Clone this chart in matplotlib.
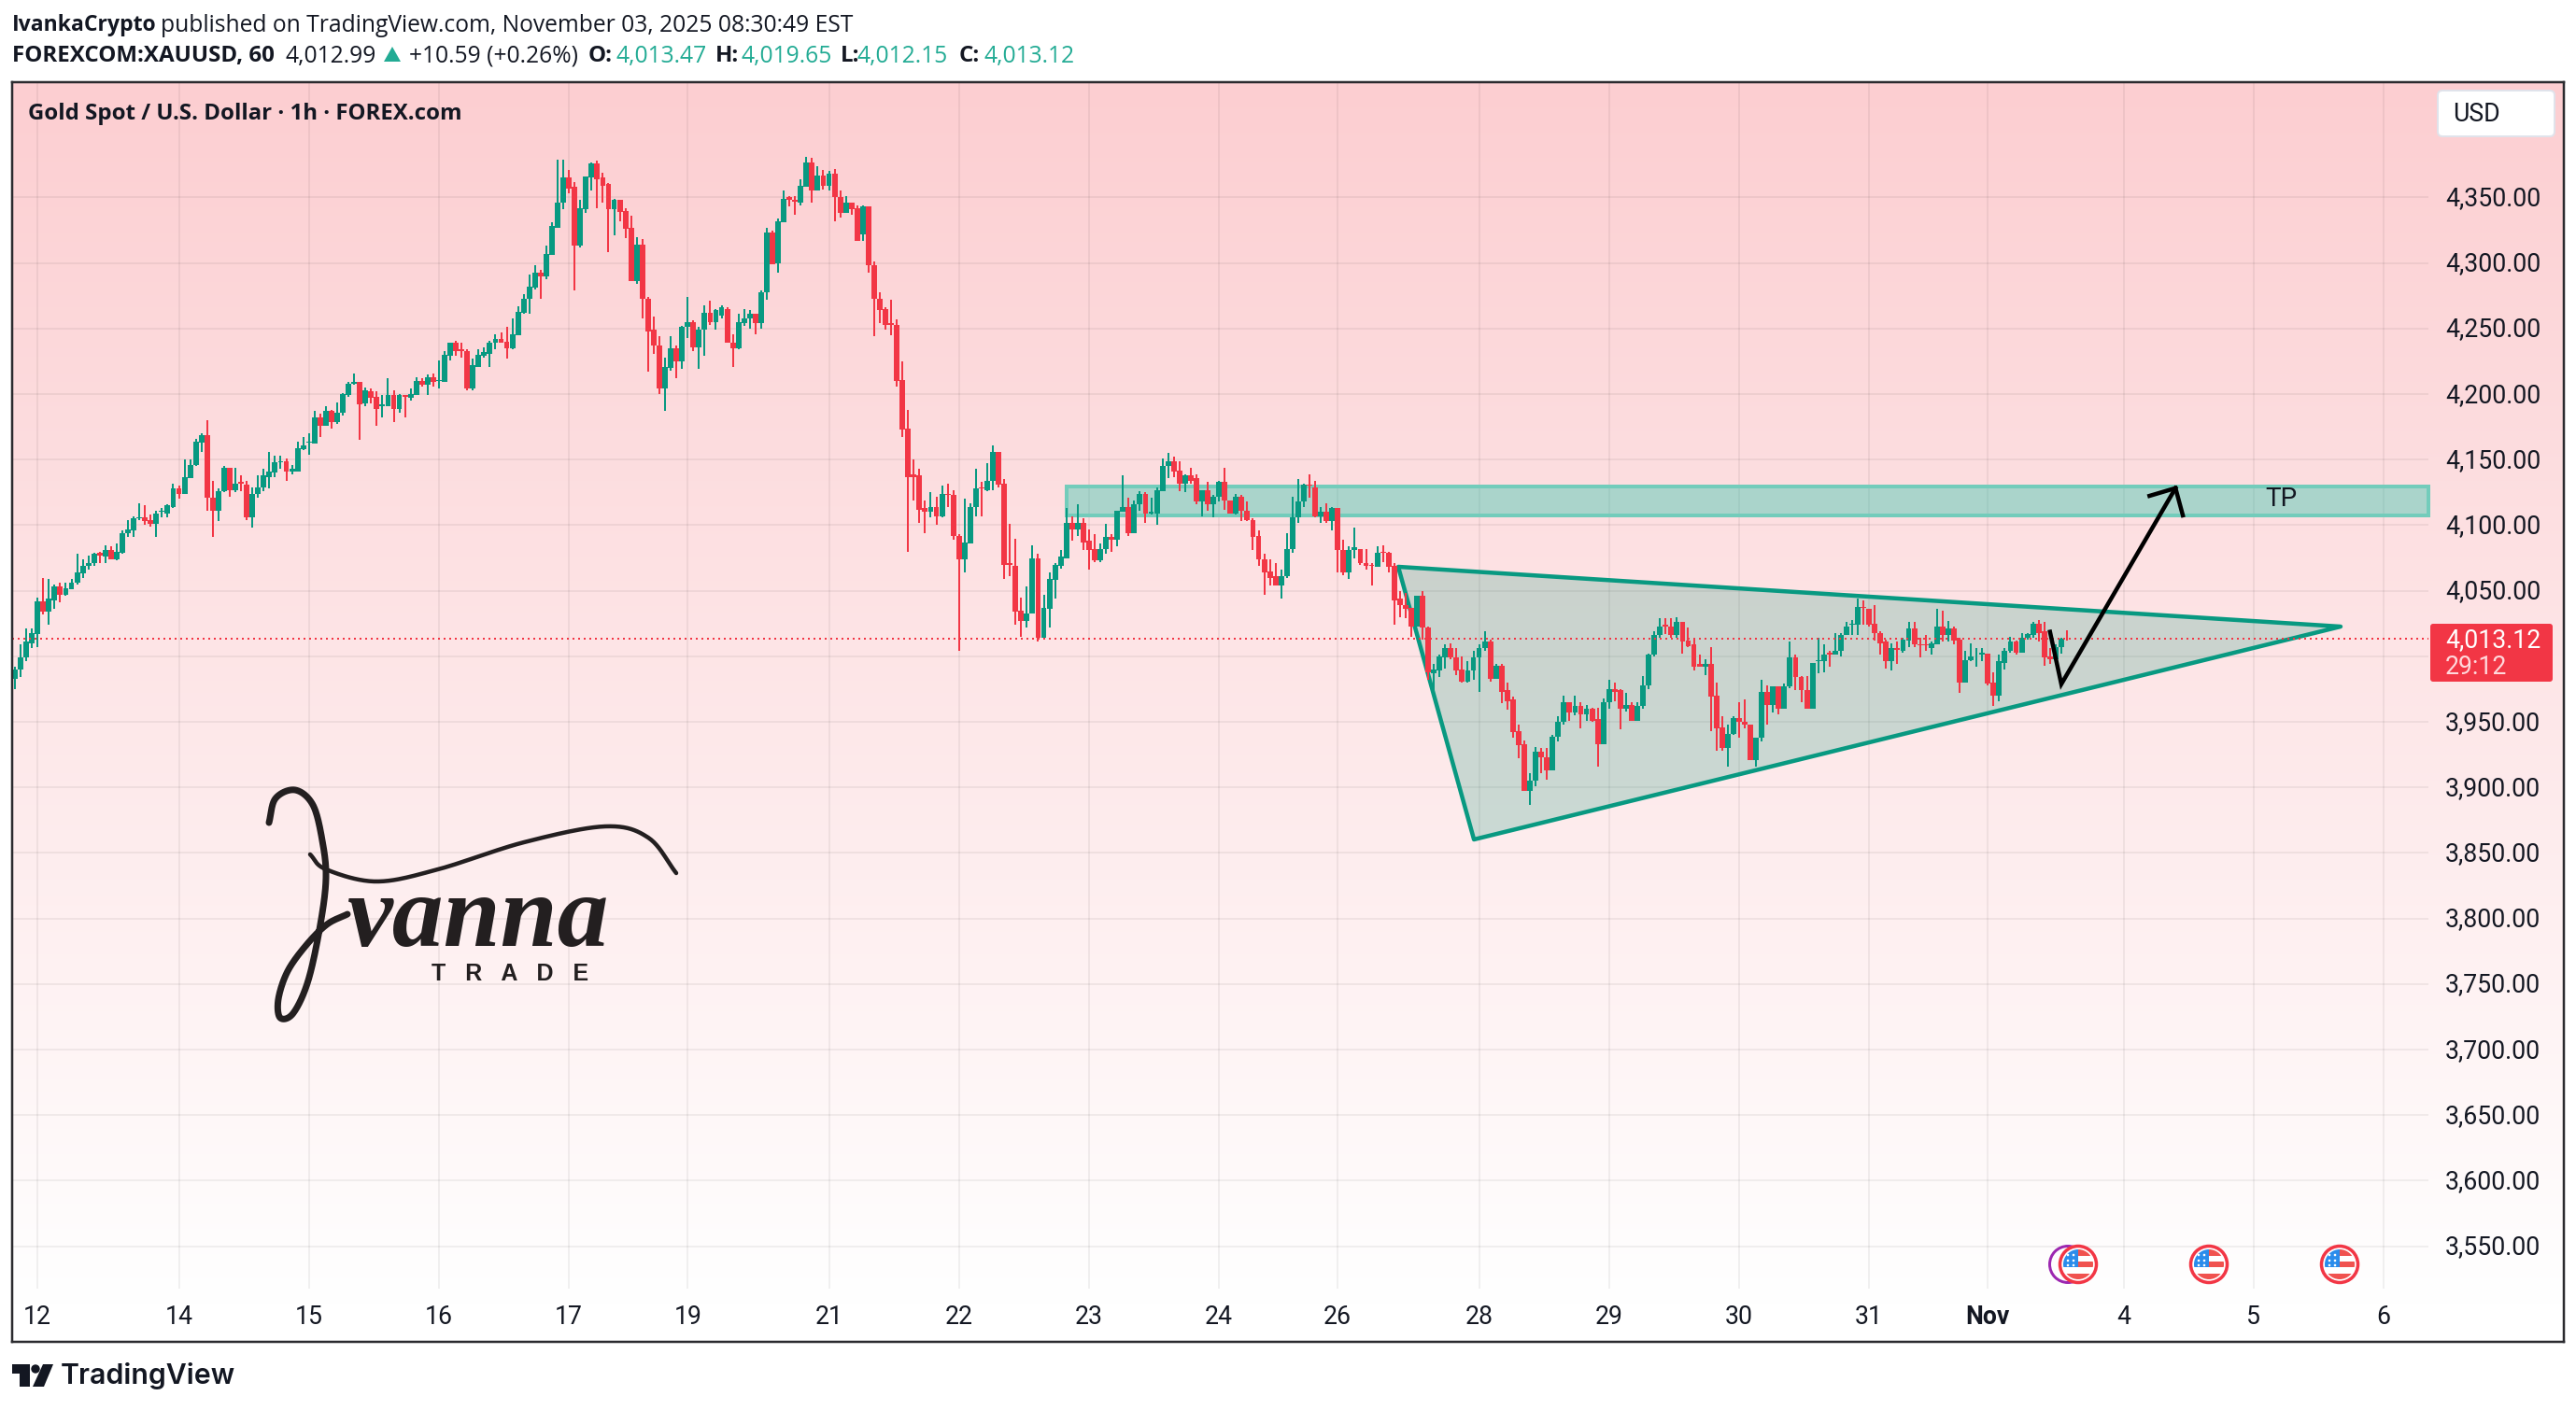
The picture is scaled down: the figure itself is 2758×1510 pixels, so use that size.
import numpy as np
import matplotlib
matplotlib.use("Agg")
import matplotlib.pyplot as plt
from matplotlib.patches import Polygon, Rectangle, Circle, FancyBboxPatch

# ---------------- data ----------------
opens = [3983,3990,3999,4010,4017,4042,4034,4043,4053,4047,
4051,4056,4063,4069,4071,4079,4076,4081,4074,4079,
4094,4096,4105,4106,4104,4101,4110,4109,4114,4128,
4124,4136,4146,4163,4169,4121,4111,4126,4144,4127,
4133,4131,4106,4124,4129,4137,4140,4148,4149,4141,
4141,4158,4163,4162,4182,4176,4187,4179,4186,4199,
4208,4209,4193,4202,4198,4191,4191,4199,4189,4199,
4197,4199,4210,4207,4213,4210,4209,4229,4239,4234,
4233,4204,4221,4229,4231,4239,4242,4240,4235,4245,
4262,4273,4281,4293,4290,4306,4327,4346,4365,4358,
4313,4341,4365,4376,4365,4360,4341,4348,4340,4327,
4286,4314,4273,4249,4237,4204,4220,4235,4225,4251,
4255,4236,4249,4262,4255,4260,4265,4239,4235,4254,
4258,4261,4254,4278,4323,4300,4331,4350,4348,4346,
4358,4377,4355,4367,4359,4368,4350,4338,4346,4342,
4322,4343,4298,4273,4265,4254,4253,4211,4174,4139,
4138,4113,4110,4114,4107,4124,4123,4092,4074,4086,
4114,4129,4127,4134,4156,4132,4071,4069,4035,4027,
4033,4075,4014,4036,4058,4069,4075,4102,4097,4102,
4088,4082,4073,4082,4091,4089,4110,4114,4094,4116,
4124,4109,4109,4126,4145,4149,4142,4132,4138,4136,
4118,4127,4116,4122,4133,4119,4109,4122,4111,4104,
4092,4074,4065,4061,4054,4061,4082,4106,4118,4131,
4129,4107,4110,4103,4113,4081,4064,4081,4082,4071,
4070,4068,4080,4079,4069,4044,4039,4037,4023,4046,
4022,3987,3989,3999,4006,3999,3990,3981,3989,3999,
4006,4011,3983,3993,3974,3967,3943,3933,3897,3905,
3927,3923,3913,3939,3950,3965,3957,3962,3956,3960,
3952,3933,3965,3975,3974,3960,3963,3951,3962,3978,
4001,4016,4024,4023,4016,4026,4012,4009,3994,3992,
3994,3970,3946,3930,3941,3953,3950,3948,3921,3938,
3973,3963,3977,3960,3977,3999,3984,3974,3960,3996,
3996,4003,4001,4004,4016,4024,4024,4038,4036,4025,
4018,4011,3996,4006,4004,4012,4021,4009.5,4009.5,4006,
4009,4023,4016,4021,4013,3980,3997,4001,4001.5,4002,
3980,3970,3995,4004,4011,4003,4014,4016,4025,4019,
4000,3998,4007,4013.47]

highs = [3992,4009,4021,4021,4045,4060,4059,4055,4056,4056,
4059,4078,4074,4077,4079,4080,4085,4084,4086,4096,
4104,4107,4117,4115,4108,4111,4113,4116,4132,4130,
4150,4150,4166,4170,4180,4134,4128,4145,4144,4144,
4138,4134,4129,4138,4143,4156,4153,4153,4151,4146,
4164,4167,4170,4187,4185,4191,4188,4194,4201,4209,
4216,4209,4205,4204,4202,4199,4212,4203,4200,4199,
4204,4213,4212,4215,4216,4226,4233,4239,4241,4239,
4234,4227,4234,4236,4241,4246,4247,4251,4258,4267,
4276,4291,4298,4295,4313,4331,4379,4379,4371,4362,
4348,4366,4377,4378,4369,4361,4349,4348,4342,4336,
4320,4318,4274,4259,4244,4228,4244,4237,4252,4274,
4256,4251,4268,4271,4265,4268,4266,4246,4261,4265,
4264,4261,4279,4327,4325,4334,4355,4351,4351,4364,
4381,4380,4374,4371,4370,4372,4355,4351,4346,4344,
4344,4343,4301,4278,4266,4272,4257,4225,4188,4150,
4143,4119,4125,4122,4130,4132,4127,4093,4120,4117,
4143,4133,4147,4161,4156,4135,4101,4090,4045,4053,
4085,4078,4047,4064,4071,4081,4113,4107,4116,4105,
4097,4093,4086,4101,4093,4111,4138,4121,4119,4126,
4125,4121,4129,4151,4155,4152,4149,4139,4144,4139,
4127,4133,4123,4134,4144,4119,4124,4123,4118,4105,
4096,4078,4074,4071,4066,4094,4122,4135,4132,4139,
4134,4114,4117,4114,4113,4089,4084,4098,4082,4082,
4071,4084,4085,4080,4071,4050,4048,4037,4046,4050,
4023,3994,4001,4009,4010,4006,4000,3996,4004,4009,
4019,4013,3994,3994,3980,3969,3948,3936,3911,3931,
3930,3930,3940,3954,3970,3965,3970,3965,3963,3961,
3961,3968,3982,3980,3975,3972,3965,3965,3985,4002,
4019,4029,4029,4029,4030,4026,4022,4013,4001,3998,
4007,3980,3954,3948,3954,3965,3967,3948,3938,3982,
3978,3977,3977,3979,4011,4001,3985,3985,3995,4014,
4009,4004,4018,4018,4026,4028,4044,4043,4036,4039,
4019,4013,4010,4011,4014,4026,4026,4014,4016,4011,
4036,4035,4027,4023,4014,4004,4010,4006,4006,4002,
3988,4001,4006,4015,4012,4018,4018,4026,4028,4026,
4006,4009,4014,4019.65]

lows = [3975,3984,3996,4006,4007,4032,4024,4036,4041,4046,
4051,4055,4060,4066,4069,4071,4071,4074,4073,4078,
4091,4091,4104,4100,4099,4091,4106,4106,4113,4120,
4124,4136,4145,4156,4111,4091,4103,4125,4122,4125,
4126,4104,4098,4121,4126,4128,4137,4143,4134,4139,
4141,4157,4154,4162,4167,4176,4174,4177,4184,4198,
4207,4165,4191,4193,4176,4182,4191,4179,4186,4182,
4195,4199,4206,4199,4206,4204,4209,4226,4229,4228,
4203,4203,4221,4228,4221,4234,4239,4227,4234,4245,
4261,4261,4280,4273,4288,4306,4327,4341,4353,4279,
4312,4338,4355,4342,4346,4308,4321,4332,4319,4286,
4284,4258,4217,4231,4200,4187,4218,4212,4219,4243,
4233,4219,4229,4253,4249,4258,4239,4221,4234,4252,
4250,4246,4250,4272,4299,4293,4331,4343,4337,4344,
4358,4346,4355,4356,4355,4332,4335,4338,4337,4317,
4317,4293,4244,4254,4249,4245,4206,4167,4080,4119,
4102,4094,4106,4100,4106,4114,4089,4004,4064,4086,
4107,4107,4126,4127,4129,4059,4061,4024,4015,4022,
4033,4011,4014,4022,4044,4067,4075,4088,4092,4081,
4066,4072,4072,4078,4080,4084,4110,4092,4094,4111,
4102,4108,4100,4126,4136,4137,4126,4125,4132,4116,
4107,4111,4106,4118,4112,4109,4108,4103,4103,4081,
4069,4047,4054,4054,4044,4060,4079,4102,4114,4121,
4106,4102,4102,4096,4064,4062,4059,4075,4070,4066,
4054,4068,4072,4064,4024,4030,4029,4015,4023,4013,
3982,3974,3984,3991,3998,3986,3980,3980,3982,3973,
4004,3981,3983,3964,3959,3938,3922,3897,3887,3901,
3911,3906,3913,3935,3948,3951,3955,3945,3951,3950,
3916,3933,3960,3966,3944,3958,3951,3951,3960,3975,
4000,4014,4017,4014,4014,4002,4007,3989,3992,3986,
3943,3928,3928,3916,3940,3938,3945,3921,3916,3935,
3948,3957,3956,3960,3976,3974,3965,3960,3960,3987,
3988,3992,4001,4000,4016,4016,4016,4024,4023,4012,
4001,3991,3989,3994,4003,4007,4007,3999,4004,4001,
4009,4011,4011,4009,3972,3980,3996,3992,3996,3978,
3962,3966,3990,4003,4001,4003,4013,4014,4011,3993,
3994,3994,4002,4012.15]

closes = [3990,3999,4011,4018,4042,4034,4044,4053,4047,4052,
4056,4064,4069,4071,4078,4077,4081,4074,4080,4094,
4097,4105,4106,4103,4101,4109,4111,4115,4128,4124,
4137,4146,4164,4169,4121,4111,4126,4144,4127,4132,
4132,4106,4124,4129,4138,4141,4148,4149,4141,4143,
4159,4161,4164,4182,4176,4187,4179,4186,4200,4208,
4209,4192,4203,4197,4189,4192,4199,4189,4199,4198,
4200,4210,4207,4213,4209,4211,4230,4239,4233,4233,
4204,4222,4230,4232,4239,4242,4239,4235,4246,4263,
4273,4282,4293,4290,4307,4328,4346,4365,4357,4313,
4342,4366,4376,4364,4359,4341,4348,4339,4326,4286,
4314,4273,4248,4237,4204,4221,4235,4225,4251,4255,
4236,4249,4262,4255,4264,4266,4239,4235,4255,4258,
4261,4254,4278,4323,4299,4332,4349,4348,4347,4359,
4377,4355,4367,4359,4368,4350,4338,4346,4341,4317,
4343,4298,4273,4264,4253,4253,4210,4173,4137,4137,
4112,4110,4114,4107,4124,4123,4092,4074,4087,4114,
4128,4128,4134,4156,4131,4070,4070,4034,4027,4033,
4075,4014,4037,4059,4070,4076,4102,4097,4102,4087,
4081,4073,4082,4091,4089,4111,4114,4094,4116,4124,
4109,4110,4127,4145,4149,4141,4132,4138,4134,4118,
4127,4116,4122,4133,4119,4109,4122,4111,4104,4091,
4074,4064,4060,4054,4061,4082,4106,4118,4131,4130,
4107,4110,4103,4113,4081,4064,4081,4083,4071,4069,
4069,4079,4079,4068,4043,4039,4036,4023,4046,4022,
3988,3990,4000,4006,3999,3989,3981,3989,3999,4006,
4011,3983,3993,3973,3966,3942,3932,3897,3905,3927,
3923,3913,3939,3950,3965,3957,3962,3956,3960,3951,
3933,3965,3975,3973,3960,3963,3951,3962,3978,4001,
4016,4023,4023,4016,4026,4011,4008,3992,3992,3994,
3969,3945,3930,3941,3953,3950,3948,3921,3938,3973,
3963,3977,3960,3977,3999,3984,3974,3960,3995,3997,
4001,4001,4004,4016,4023,4025,4038,4037,4024,4018,
4010,3996,4006,4005,4013,4021,4009,4008.5,4008.5,4010,
4023,4016,4021,4012,3980,3997,4000,4001.5,4003,3979,
3970,3996,4004,4011,4003,4014,4017,4025,4018,3999,
3998,4007,4013.5,4013.12]

price_ticks = [3550,3600,3650,3700,3750,3800,3850,3900,3950,4000,4050,4100,4150,4200,4250,4300,4350]
date_pos = [4,29,52,75,98,119,144,167,190,213,234,259,282,305,328,349,373,396,419]
date_labels = ["12","14","15","16","17","19","21","22","23","24","26","28","29","30","31","Nov","4","5","6"]
last_price = 4013.12
zone_x = [186, 427]
zone_y = [4107.5, 4129.6]
tri_x = [244.7, 258.1, 411.4]
tri_y = [4068.3, 3860.3, 4022.7]
arrow_x = [360, 362, 382.2]
arrow_y = [4018.7, 3978.8, 4128.3]
head_x = [377.6, 382.2, 383.5]
head_y = [4122.4, 4128.3, 4107.5]

GREEN, RED = "#089981", "#F23645"
W, H = 2758, 1510
PX = 0.72  # points per pixel at dpi 100
plt.rcParams["font.family"] = ["Roboto", "DejaVu Sans"]

fig = plt.figure(figsize=(W/100, H/100), dpi=100, facecolor="white")
L, T, R, B = 13, 88, 2745, 1437
ax = fig.add_axes([L/W, 1-B/H, (R-L)/W, (B-T)/H])
x = np.arange(len(closes))
ax.set_xlim(-0.496, 450.9)
ax.set_ylim(3477.1, 4437.96)

# background gradient
g = np.linspace(0, 1, 1349)
g = np.clip(g/0.97, 0, 1)[:, None]
top = np.array([252, 206, 209])/255
img = top[None, None, :]*(1-g[:, :, None]) + 1.0*g[:, :, None]
ax.imshow(img, extent=(0, 1, 0, 1), transform=ax.transAxes, aspect="auto", zorder=0, interpolation="bilinear")
ax.set_xlim(-0.496, 450.9)
ax.set_ylim(3477.1, 4437.96)

# grid
ax.hlines(price_ticks, -0.496, zone_x[1], color="k", alpha=0.055, lw=2*PX, zorder=1)
ax.vlines(date_pos, 3518, 4437.96, color="k", alpha=0.055, lw=2*PX, zorder=1)

# drawings below candles
ax.fill_between(zone_x, zone_y[0], zone_y[1], color="#2EC5AC", alpha=0.4, lw=0, zorder=2)
ax.add_patch(Rectangle((zone_x[0], zone_y[0]), zone_x[1]-zone_x[0], zone_y[1]-zone_y[0], fill=False,
                       edgecolor="#73CCBB", lw=4*PX, zorder=2))
ax.add_patch(Polygon(np.c_[tri_x, tri_y], closed=True, facecolor="#009372", alpha=0.2, lw=0, zorder=2))
ax.add_patch(Polygon(np.c_[tri_x, tri_y], closed=True, fill=False, edgecolor=GREEN, lw=4.5*PX, joinstyle="round", zorder=2))

# candles
o, h, l, c = map(np.array, (opens, highs, lows, closes))
col = np.where(c >= o, GREEN, RED)
ax.vlines(x, l, h, colors=col, lw=2*PX, zorder=3)
ax.bar(x, np.abs(c-o), bottom=np.minimum(o, c), width=0.97, color=col, lw=0, zorder=3)

# last-price line
ax.hlines(last_price, -0.496, zone_x[1], color=RED, lw=2*PX, linestyles=(0, (1, 2)), zorder=4)

# arrow
ax.plot(arrow_x, arrow_y, color="k", lw=4.5*PX, solid_joinstyle="miter", zorder=5)
ax.plot(head_x, head_y, color="k", lw=4.5*PX, solid_joinstyle="miter", zorder=5)

ax.set_xticks([]); ax.set_yticks([])
for s in ax.spines.values():
    s.set_linewidth(2.5*PX); s.set_color("#2b2b2f"); s.set_zorder(8)

# ---------------- overlay in image pixels ----------------
ov = fig.add_axes([0, 0, 1, 1], facecolor="none")
ov.set_xlim(0, W); ov.set_ylim(H, 0); ov.axis("off")

def txt(px, py, s, size=19.2, color="#131722", weight="normal", ha="left", fam="Roboto", **kw):
    return ov.text(px, py, s, fontsize=size, color=color, fontweight=weight, ha=ha, va="center", family=fam, **kw)

HF, HS = "Open Sans", 17.7
txt(13, 27, "IvankaCrypto", 16.6, weight="bold", fam=HF)
txt(172, 27, "published on TradingView.com, November 03, 2025 08:30:49 EST", HS, fam=HF)
txt(13, 60, "FOREXCOM:XAUUSD, 60", 17.4, weight="bold", fam=HF)
txt(305, 60, "4,012.99", HS, fam=HF)
ov.add_patch(Polygon([(411, 66), (429, 66), (420, 50)], color="#22AB94", lw=0))
txt(438, 60, "+10.59 (+0.26%)", HS, fam=HF)
TEAL = "#22AB94"
for lab, lx, val, vx in [("O:", 630, "4,013.47", 659), ("H:", 766, "4,019.65", 794),
                         ("L:", 900, "4,012.15", 918), ("C:", 1027, "4,013.12", 1054)]:
    txt(lx, 60, lab, 17.4, weight="bold", fam=HF)
    txt(vx, 60, val, HS, color=TEAL, fam=HF)
txt(30, 122, "Gold Spot / U.S. Dollar · 1h · FOREX.com", 17.3, weight="bold", fam=HF)

# price scale (the 4,000.00 label sits behind the last-price tag in the chart)
for p in price_ticks:
    if p == 4000:
        continue
    py = 211.5 + (4350-p)*1.404
    txt(2618, py+1, f"{p:,.2f}")
ov.add_patch(FancyBboxPatch((2610, 97), 125, 49, boxstyle="round,pad=0,rounding_size=5",
                            facecolor="white", edgecolor="#e0e3eb", lw=2*PX))
txt(2626, 122, "USD")
ov.add_patch(FancyBboxPatch((2602, 668), 131, 62, boxstyle="round,pad=0,rounding_size=3",
                            facecolor=RED, edgecolor="none", zorder=5))
txt(2618, 686, "4,013.12", color="white", zorder=6)
txt(2618, 715, "29:12", color="#ffd9dc", zorder=6)

# date labels
for p, s in zip(date_pos, date_labels):
    px = 16 + 6.052*p
    txt(px, 1410, s, ha="center", weight="bold" if s == "Nov" else "normal")

txt(2425, 534, "TP", 20, color="#131722")

# signature logo
def crom(pts, n=24):
    p = np.array(pts, float)
    p = np.vstack([2*p[0]-p[1], p, 2*p[-1]-p[-2]])
    out = []
    for i in range(1, len(p)-2):
        t = np.linspace(0, 1, n)[:, None]
        a, b, cc, d = p[i-1], p[i], p[i+1], p[i+2]
        out.append(0.5*((2*b)+(-a+cc)*t+(2*a-5*b+4*cc-d)*t**2+(-a+3*b-3*cc+d)*t**3))
    return np.vstack(out)

INK = "#231f20"
j = crom([(288, 881), (295, 855), (316, 846), (335, 862), (345, 900), (349, 940), (343, 990), (330, 1050),
          (314, 1085), (300, 1090), (298, 1070), (308, 1040), (328, 1012), (350, 990), (372, 979)])
ov.plot(j[:, 0], j[:, 1], color=INK, lw=7*PX, solid_capstyle="round")
sw = crom([(332, 915), (349, 931), (403, 944), (469, 931), (561, 902), (648, 885), (694, 897), (724, 935)])
ov.plot(sw[:, 0], sw[:, 1], color=INK, lw=4.5*PX, solid_capstyle="round")
txt(372, 986, "vanna", 79, color=INK, weight="bold", fam="Liberation Serif", style="italic")
txt(462, 1043, "T   R   A   D   E", 18, color=INK, weight="bold", fam="Liberation Sans")

# economic event icons
def flag(cx, cy=1354):
    r = 21
    ov.add_patch(Circle((cx, cy), r-1.5, facecolor="white", edgecolor=RED, lw=3.5*PX, zorder=6))
    clip = Circle((cx, cy), 16, transform=ov.transData)
    for (x0, y0, w, hh, fc) in [(cx, cy-16, 16, 7, "#F0524F"), (cx, cy-3, 16, 6, "#F0524F"),
                                (cx-16, cy+10, 32, 8, "#F0524F"), (cx-16, cy-16, 16, 19, "#2A8CEB")]:
        rr = Rectangle((x0, y0), w, hh, facecolor=fc, lw=0, zorder=7)
        ov.add_patch(rr); rr.set_clip_path(clip)
    for dx in (-11, -5):
        for dy in (-10, -4, 1):
            ov.add_patch(Circle((cx+dx, cy+dy), 1.3, facecolor="white", lw=0, zorder=8))

ov.add_patch(Circle((2214, 1354), 19.5, facecolor="none", edgecolor="#9C27B0", lw=3*PX, zorder=5))
for cx in (2225, 2365, 2505):
    flag(cx)

# TradingView brand
DK = "#131722"
ov.add_patch(Polygon([(13, 1461), (32, 1461), (32, 1485), (21, 1485), (21, 1471), (13, 1471)], color=DK, lw=0))
ov.add_patch(Circle((38, 1466), 4.7, color=DK, lw=0))
ov.add_patch(Polygon([(46, 1461), (57, 1461), (47, 1485), (35, 1485)], color=DK, lw=0))
txt(65, 1474, "TradingView", 21.8, color=DK, weight="semibold", fam="Inter")

fig.savefig("out.png", dpi=100)
